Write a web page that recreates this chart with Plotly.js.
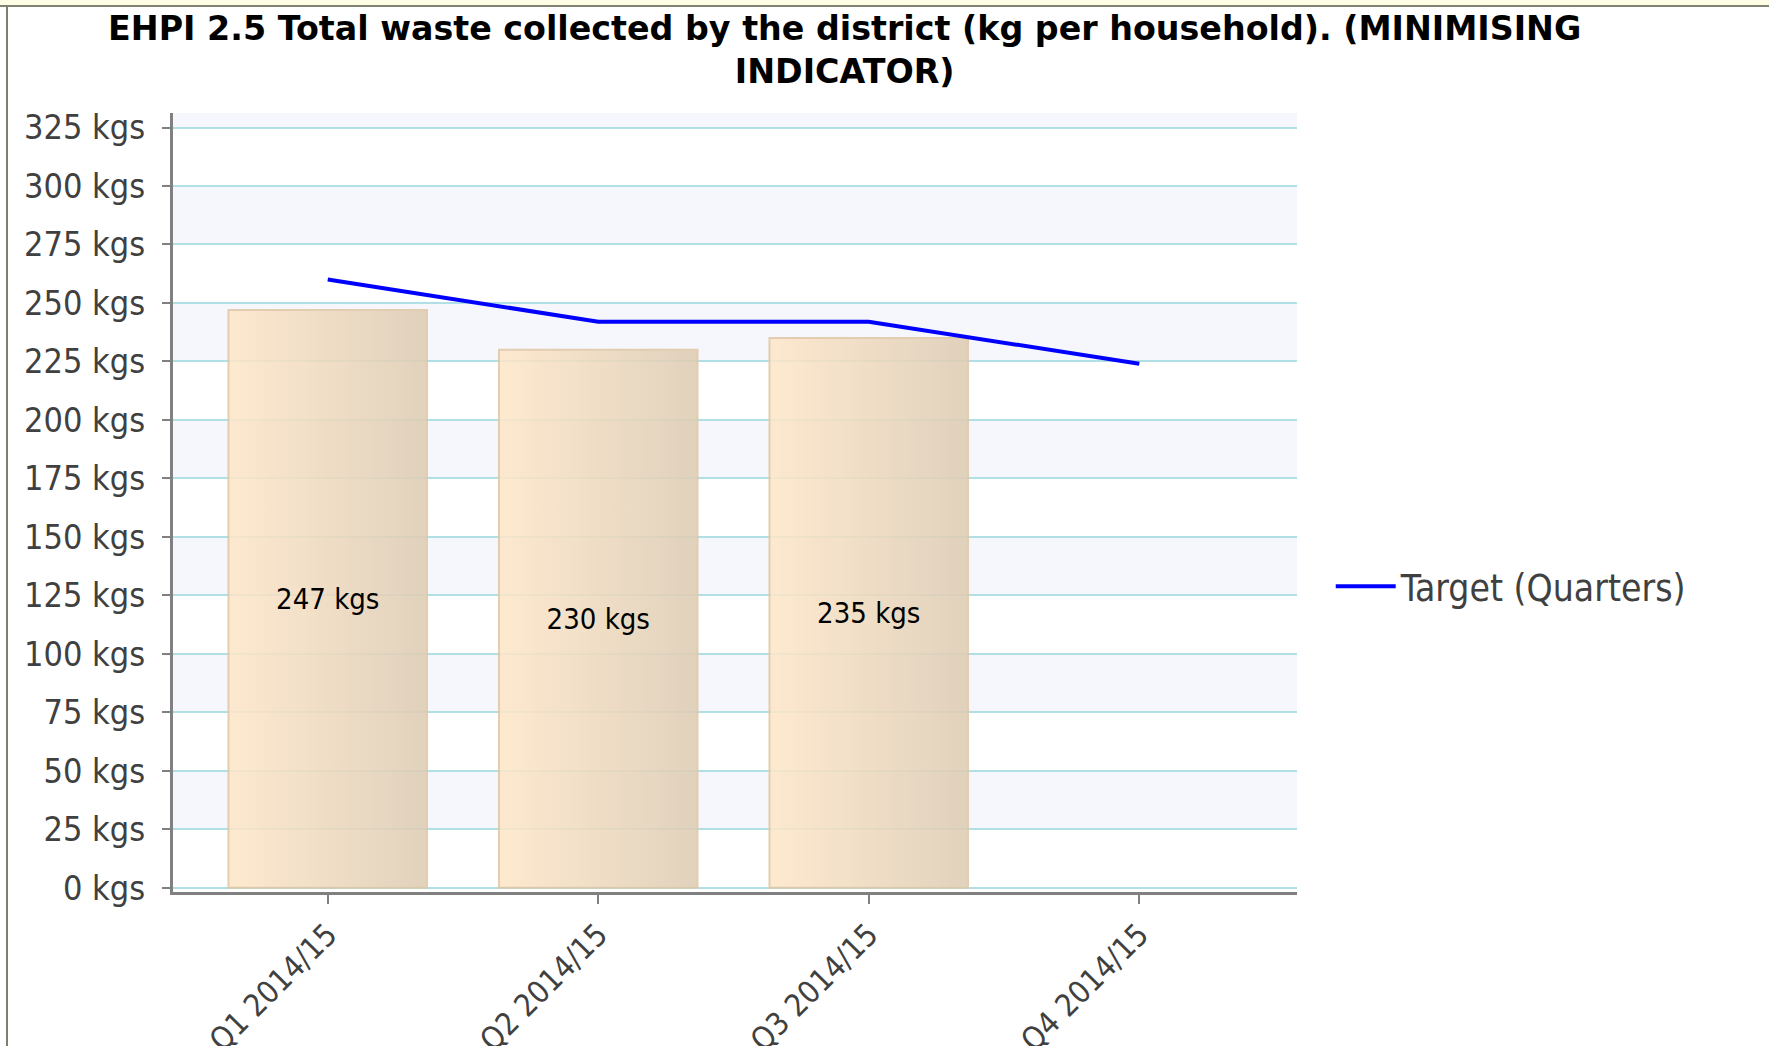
<!DOCTYPE html>
<html><head><meta charset="utf-8">
<script src="https://cdn.plot.ly/plotly-3.0.1.min.js"></script>
<style>
html,body{margin:0;padding:0;background:#fff;overflow:hidden}
#chart{position:absolute;left:0;top:0;width:1769px;height:1046px}
#topstrip{position:absolute;left:0;top:0;width:1769px;height:5px;background:#FFFDE3;border-bottom:2px solid #828272}
#leftline{position:absolute;left:6px;top:5px;width:2px;height:1041px;background:#7E7E6E}
</style></head><body>
<div id="chart"></div><div id="topstrip"></div><div id="leftline"></div>
<script>
// ---- data ----
const categories = ['Q1 2014/15', 'Q2 2014/15', 'Q3 2014/15', 'Q4 2014/15'];
const actualCategories = ['Q1 2014/15', 'Q2 2014/15', 'Q3 2014/15'];
const actualValues = [247, 230, 235];
const targetValues = [260, 242, 242, 224];
const yTickValues = [0, 25, 50, 75, 100, 125, 150, 175, 200, 225, 250, 275, 300, 325];
const yTickLabels = yTickValues.map(v => v + ' kgs');
const titleText = 'EHPI 2.5 Total waste collected by the district (kg per household). (MINIMISING<br>INDICATOR)';
const legendName = 'Target (Quarters)';

const yMin = -1.8, yMax = 331.2;
const FONT = "'DejaVu Sans Condensed', 'DejaVu Sans', sans-serif";

// alternating background bands built from the tick values
const bandShapes = [];
for (let i = 1; i < yTickValues.length; i += 2) {
  const y0 = yTickValues[i];
  const y1 = (i + 1 < yTickValues.length) ? yTickValues[i + 1] : yMax;
  bandShapes.push({type: 'rect', xref: 'paper', yref: 'y', x0: 0, x1: 1, y0: y0, y1: y1,
    fillcolor: '#F6F7FD', line: {width: 0}, layer: 'below'});
}

const data = [
  {
    type: 'bar', x: actualCategories, y: actualValues, width: 0.734,
    text: actualValues.map(v => v + ' kgs'), textposition: 'inside', insidetextanchor: 'middle',
    textfont: {family: FONT, size: 29, color: '#000000'}, constraintext: 'none',
    marker: {color: '#EFDCC2', opacity: 0.88, line: {color: '#E0C8A6', width: 2}},
    showlegend: false, hoverinfo: 'skip'
  },
  {
    type: 'scatter', mode: 'lines', x: categories, y: targetValues, name: legendName,
    line: {color: '#0000FF', width: 4}
  }
];

const layout = {
  width: 1769, height: 1046,
  paper_bgcolor: '#FFFFFF', plot_bgcolor: '#FFFFFF',
  margin: {l: 173, r: 472, t: 113, b: 154},
  title: {text: titleText, font: {family: "'DejaVu Sans', sans-serif", size: 33.3, color: '#000000', weight: 'bold'},
    xref: 'container', x: 0.4775, xanchor: 'center', yref: 'container', y: 1 - 40/1046, yanchor: 'top'},
  xaxis: {type: 'category', categoryarray: categories, range: [-0.572, 3.583],
    showline: true, linecolor: '#808080', linewidth: 3, ticks: 'outside', ticklen: 9, tickwidth: 2, tickcolor: '#808080',
    tickangle: -45, tickfont: {family: FONT, size: 31, color: '#404040'}, showgrid: false, zeroline: false},
  yaxis: {range: [yMin, yMax], tickvals: yTickValues, ticktext: yTickLabels,
    showline: true, linecolor: '#808080', linewidth: 3, ticks: 'outside', ticklen: 8, tickwidth: 2, tickcolor: '#808080',
    tickfont: {family: FONT, size: 34, color: '#404040'}, ticklabelstandoff: 10,
    showgrid: true, gridcolor: '#B0E0E6', gridwidth: 2, zeroline: false},
  shapes: bandShapes,
  showlegend: true,
  legend: {x: 1.03, xanchor: 'left', y: 0.392, yanchor: 'middle', bgcolor: 'rgba(0,0,0,0)',
    itemwidth: 60, font: {family: FONT, size: 37, color: '#404040'}},
  bargap: 0.27
};

Plotly.newPlot('chart', data, layout, {displayModeBar: false, staticPlot: true}).then(gd => {
  const ns = 'http://www.w3.org/2000/svg';
  const svg = gd.querySelector('svg.main-svg');
  let defs = svg.querySelector('defs');
  if (!defs) { defs = document.createElementNS(ns, 'defs'); svg.insertBefore(defs, svg.firstChild); }
  const grad = document.createElementNS(ns, 'linearGradient');
  grad.setAttribute('id', 'barGrad');
  grad.setAttribute('x1', '0'); grad.setAttribute('y1', '0');
  grad.setAttribute('x2', '1'); grad.setAttribute('y2', '0');
  [['0', '#FEE7C9'], ['1', '#DECCB4']].forEach(([o, c]) => {
    const s = document.createElementNS(ns, 'stop');
    s.setAttribute('offset', o); s.setAttribute('stop-color', c);
    grad.appendChild(s);
  });
  defs.appendChild(grad);
  gd.querySelectorAll('.barlayer .point path').forEach(p => { p.style.fill = 'url(#barGrad)'; });
});
</script>
</body></html>
